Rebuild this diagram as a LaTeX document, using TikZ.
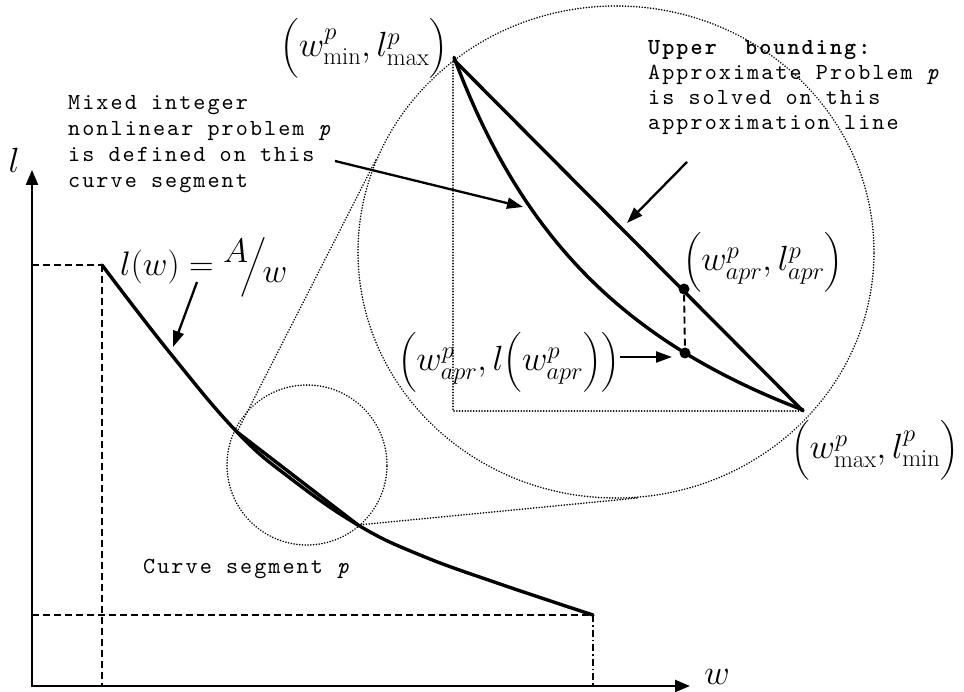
\RequirePackage{fix-cm}
\documentclass[tikz,border=0pt]{standalone}
\usepackage{amsmath}
\usepackage{fontspec}
\usetikzlibrary{arrows.meta,shapes.geometric}
\newfontfamily\monoff{lmmono10-regular.otf}[BoldFont=lmmonolt10-bold.otf,ItalicFont=lmmono10-italic.otf,LetterSpace=9]
\begin{document}
\begin{tikzpicture}[x=1pt,y=-1pt,
  axisline/.style={line width=2.6pt,{Triangle[length=15pt,width=12pt]}-{Triangle[length=15pt,width=12pt]}},
  curveline/.style={line width=3.4pt,line join=round,line cap=round},
  guide/.style={line width=1.9pt,dash pattern=on 7pt off 4pt},
  guidedot/.style={line width=1.6pt,dash pattern=on 7pt off 3pt on 1.5pt off 3pt},
  dotl/.style={line width=1.7pt,dash pattern=on 0.1pt off 2.7pt,line cap=round},
  pointer/.style={line width=2.3pt,-{Triangle[length=16pt,width=11pt]}},
  mono/.style={font=\fontsize{23}{26}\selectfont\monoff,align=left,inner sep=0pt},
  mathl/.style={font=\fontsize{35}{40}\selectfont,inner sep=0pt},
  dotn/.style={circle,fill=black,minimum size=11pt,inner sep=0pt}]
\useasboundingbox (0,0) rectangle (964,692);

% axes
\coordinate (O) at (32,686);
\coordinate (ytip) at (32,170);
\coordinate (xtip) at (690,686);
\draw[axisline] (ytip) -- (O) -- (xtip);
\node[mathl] (llab) at (14,160) {$l$};
\node[mathl] (wlab) at (717,677) {$w$};

% curve
\coordinate (c0) at (102,265);
\coordinate (cA) at (237,432);
\coordinate (cB) at (358,525);
\coordinate (c1) at (593,615);
\draw[guide] (32,265) -- (c0);
\draw[guide] (c0) -- (102,686);
\draw[guide] (32,615) -- (c1);
\draw[guidedot] (c1) -- (593,686);
\draw[curveline] plot[smooth,tension=0.7] coordinates {(102,265) (170,353) (237,432) (290,478) (358,525) (420,555) (500,584) (593,615)};
\draw[curveline] (cA) -- (cB);

% magnifier
\node[circle,draw,dotl,minimum size=160pt,inner sep=0pt] (small) at (307,465) {};
\node[ellipse,draw,dotl,minimum width=516pt,minimum height=492pt,inner sep=0pt] (big) at (616,252) {};
\draw[dotl] (cA) -- (big.159);
\draw[dotl] (cB) -- (big.-85);

% inset
\coordinate (P1) at (454,60);
\coordinate (P2) at (803,411);
\coordinate (Qt) at (453,62);
\coordinate (Q) at (453,411);
\draw[dotl] (Qt) -- (Q) -- (P2);
\draw[curveline] (P1) -- (P2);
\draw[curveline] plot[domain=454:803,samples=80] (\x,{623.8-100*(1198.7/(\x-242.4))});
\node[dotn] (da) at (684,289) {};
\node[dotn] (db) at (685,353) {};
\draw[guide] (da) -- (db);

% labels
\node[mathl,anchor=east] (lminmax) at (448,48) {$\Bigl(w^p_{\min},l^p_{\max}\Bigr)$};
\node[mathl] (lapr) at (763,262) {$\Bigl(w^p_{apr},l^p_{apr}\Bigr)$};
\node[mathl,anchor=east] (lapr2) at (620,362) {$\Bigl(w^p_{apr},l\Bigl(w^p_{apr}\Bigr)\Bigr)$};
\node[mathl] (lmaxmin) at (875,450) {$\Bigl(w^p_{\max},l^p_{\min}\Bigr)$};
\node[mathl,font=\fontsize{34}{40}\selectfont,anchor=base west] (lfun) at (120,276) {$l(w)=\raisebox{0.4em}{$A$}\mkern-4mu\Big/\mkern-2mu\raisebox{-0.2em}{$w$}$};

\node[mono,anchor=north west] (minlp) at (68,95) {Mixed integer\\nonlinear problem \textit{p}\\is defined on this\\curve segment};
\node[mono,anchor=north west,font=\fontsize{23}{25}\selectfont\monoff] (ub) at (648,40) {\textbf{Upper\ \ bounding:}\\Approximate Problem \textit{p}\\is solved on this\\approximation line};
\node[mono,anchor=base west] (cseg) at (143,573) {Curve segment \textit{p}};

% pointers
\coordinate (a1s) at (197,282);
\coordinate (a1e) at (173,347);
\draw[pointer] (a1s) -- (a1e);
\coordinate (a2s) at (335,161);
\coordinate (a2e) at (523,207);
\draw[pointer] (a2s) -- (a2e);
\coordinate (a3s) at (687,162);
\coordinate (a3e) at (627,223);
\draw[pointer] (a3s) -- (a3e);
\coordinate (a4e) at (672,357);
\draw[pointer] (lapr2.east |- a4e) -- (a4e);
\end{tikzpicture}
\end{document}
